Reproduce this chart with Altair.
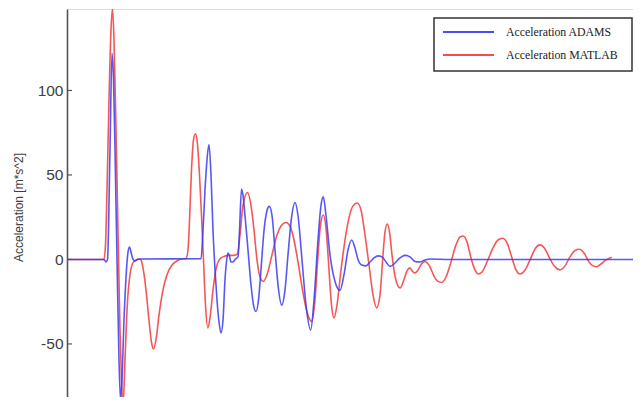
import altair as alt
import pandas as pd

series_names = ["Acceleration ADAMS", "Acceleration MATLAB"]
series_colors = ["#3a3af5", "#f23a3a"]

blue_points = [
    (0, 0), (0.37, 0), (0.39, -1.5), (0.405, 0), (0.43, 65), (0.45, 122), (0.465, 107),
    (0.48, 65), (0.50, 0), (0.52, -59), (0.535, -83), (0.55, -71), (0.57, -36), (0.595, -6),
    (0.61, 4.4), (0.625, 7.4), (0.64, 4.4), (0.66, 0), (0.68, -1), (0.70, 0), (0.73, 0.3),
    (1.34, 0.4), (1.36, 17), (1.38, 41), (1.40, 59), (1.42, 68), (1.44, 50), (1.46, 17),
    (1.48, -6), (1.50, -24), (1.52, -37), (1.54, -43.5), (1.56, -36), (1.58, -12), (1.60, 1),
    (1.61, 3.8), (1.625, 2), (1.64, -1.5), (1.66, -1.5), (1.68, 0), (1.71, 1.5), (1.725, 17),
    (1.745, 41.7), (1.76, 38), (1.78, 26), (1.81, 5.6), (1.84, -15), (1.865, -27), (1.89, -30.8),
    (1.915, -24), (1.94, -6), (1.97, 17), (2.00, 29), (2.023, 31.4), (2.05, 26), (2.08, 5.6),
    (2.11, -15), (2.147, -27), (2.18, -18), (2.21, 2.7), (2.245, 24.6), (2.28, 33.7), (2.31, 26),
    (2.35, -0.3), (2.39, -27), (2.437, -41.7), (2.47, -24), (2.51, 11.5), (2.54, 32), (2.563, 37),
    (2.59, 26), (2.63, 2.7), (2.68, -13), (2.73, -18.3), (2.77, -9), (2.81, 5.6), (2.847, 11.5),
    (2.88, 6.8), (2.91, 0), (2.947, -3.3), (2.99, -3.8), (3.03, -1.5), (3.07, 0.9), (3.11, 2.1),
    (3.15, 1.5), (3.19, -1.5), (3.23, -4.1), (3.28, -2.1), (3.33, 0.9), (3.38, 2.4), (3.43, 1.5),
    (3.48, -1.2), (3.53, -1.5), (3.58, -0.3), (3.63, 0.3), (3.83, 0), (4.33, 0), (5.74, 0),
]

red_points = [
    (0, 0), (0.37, 0), (0.385, 8.6), (0.40, 41), (0.42, 94), (0.44, 136), (0.455, 148.5),
    (0.47, 130), (0.49, 77), (0.51, 17), (0.53, -42), (0.545, -71), (0.56, -87), (0.58, -59.5),
    (0.60, -30), (0.63, -9), (0.665, -1.5), (0.725, 0.3), (0.74, -0.3), (0.76, -5), (0.79, -18),
    (0.82, -36), (0.845, -49), (0.865, -53), (0.89, -47.6), (0.92, -33), (0.96, -18), (1.00, -9),
    (1.05, -3.3), (1.10, -0.9), (1.14, 0.3), (1.19, 0.6), (1.21, 5.6), (1.225, 23), (1.245, 53),
    (1.265, 70.7), (1.285, 74.3), (1.305, 67.8), (1.325, 50), (1.345, 26), (1.365, -0.3),
    (1.385, -27), (1.408, -40.5), (1.43, -34.6), (1.46, -18), (1.495, -4.4), (1.53, 0.3),
    (1.57, 1.8), (1.62, 2.4), (1.67, 2.4), (1.705, 3.3), (1.73, 14.5), (1.76, 32), (1.805, 39.6),
    (1.84, 32), (1.87, 17.5), (1.90, -0.3), (1.93, -10.4), (1.963, -13), (2.00, -9), (2.05, 2.7),
    (2.10, 14.5), (2.14, 19.8), (2.19, 21.9), (2.23, 19.8), (2.27, 11.5), (2.31, -1.5),
    (2.35, -16.3), (2.39, -28.7), (2.42, -34.6), (2.447, -36.7), (2.48, -24), (2.51, 2.7),
    (2.535, 20.4), (2.563, 26.3), (2.59, 18.6), (2.62, -6.2), (2.645, -27), (2.67, -34.6),
    (2.70, -27), (2.74, -6.2), (2.78, 11.5), (2.82, 24.6), (2.86, 31.7), (2.903, 33.4),
    (2.94, 29.3), (2.98, 14.5), (3.02, -3.3), (3.06, -21), (3.097, -28.7), (3.13, -21),
    (3.16, 2.7), (3.18, 16.3), (3.203, 21), (3.225, 16.3), (3.25, 2.7), (3.28, -9.8),
    (3.33, -16.9), (3.37, -12), (3.40, -6.8), (3.43, -5), (3.46, -7.4), (3.48, -8), (3.51, -6.2),
    (3.545, -2.7), (3.58, -1.2), (3.62, -3.3), (3.67, -9.8), (3.71, -13), (3.747, -13.6),
    (3.79, -10.4), (3.84, -1.5), (3.89, 8.6), (3.93, 13.3), (3.963, 13.9), (4.00, 10.4),
    (4.04, 0.9), (4.08, -6.2), (4.113, -8.6), (4.15, -7.4), (4.20, -1.5), (4.26, 6.8),
    (4.31, 11.5), (4.357, 12.5), (4.40, 9.8), (4.45, 0.9), (4.49, -6.2), (4.53, -8.6),
    (4.58, -6.2), (4.63, -0.3), (4.68, 6.2), (4.73, 8.6), (4.78, 6.2), (4.83, 0.3), (4.88, -4.4),
    (4.93, -6.2), (4.98, -3.8), (5.03, 1.5), (5.08, 5.3), (5.123, 6), (5.17, 3.8), (5.22, -1.5),
    (5.26, -3.8), (5.297, -4.3), (5.34, -2.7), (5.39, -0.3), (5.447, 1.3),
]

y_ticks = [100, 50, 0, -50]
y_domain = [-81.4, 148.2]
x_domain = [0, 5.66]

W, H = 566, 388

blue_df = pd.DataFrame(blue_points, columns=["t", "v"])
red_df = pd.DataFrame(red_points, columns=["t", "v"])
tick_df = pd.DataFrame({"v": y_ticks})

xs = alt.X("t:Q", scale=alt.Scale(domain=x_domain, nice=False, zero=False), axis=None)
ys = alt.Y(
    "v:Q",
    scale=alt.Scale(domain=y_domain, nice=False, zero=False),
    axis=alt.Axis(
        values=y_ticks,
        labelExpr="'' + datum.value",
        title="Acceleration  [m*s^2]",
        titleFont="Liberation Sans",
        titleFontSize=12,
        titleFontWeight="normal",
        titleColor="#404040",
        titleX=-49,
        titleY=198,
        titleAlign="center",
        titleBaseline="middle",
        labelFont="Liberation Sans",
        labelFontSize=15.5,
        labelColor="#404040",
        labelPadding=4,
        ticks=False,
        tickSize=0,
        grid=False,
        domainColor="#555555",
        domainWidth=1.6,
    ),
)

red_line = alt.Chart(red_df).mark_line(
    color=series_colors[1], strokeWidth=1.6, opacity=0.85, clip=True, interpolate="monotone"
).encode(x=xs, y=ys)

blue_line = alt.Chart(blue_df).mark_line(
    color=series_colors[0], strokeWidth=1.6, opacity=0.85, clip=True, interpolate="monotone"
).encode(x=alt.X("t:Q"), y=alt.Y("v:Q"))

tick_marks = alt.Chart(tick_df).mark_rule(color="#555555", strokeWidth=1.2).encode(
    y=alt.Y("v:Q"), x=alt.value(0), x2=alt.value(5)
)

legend_box = alt.Chart(pd.DataFrame({"k": [0]})).mark_rect(
    fill="white", stroke="#333333", strokeWidth=1.5
).encode(x=alt.value(367), x2=alt.value(565), y=alt.value(9), y2=alt.value(62))

legend_layers = [legend_box]
for i, (name, col) in enumerate(zip(series_names, series_colors)):
    yy = 23 + i * 23
    df = pd.DataFrame({"label": [name]})
    legend_layers.append(
        alt.Chart(df).mark_rule(color=col, strokeWidth=1.8, opacity=0.9).encode(
            x=alt.value(376), x2=alt.value(427), y=alt.value(yy)
        )
    )
    legend_layers.append(
        alt.Chart(df).mark_text(
            align="left", baseline="middle", font="Liberation Serif", fontSize=11.8, color="#222222"
        ).encode(text="label:N", x=alt.value(439), y=alt.value(yy))
    )

chart = alt.layer(red_line, blue_line, tick_marks, *legend_layers).properties(
    width=W,
    height=H,
    autosize=alt.AutoSizeParams(type="none"),
    padding={"left": 59, "top": 1, "right": 0, "bottom": 0},
).configure_view(stroke=None).configure(background="white")

chart.save("out.html", embed_options={"renderer": "svg", "actions": False})
